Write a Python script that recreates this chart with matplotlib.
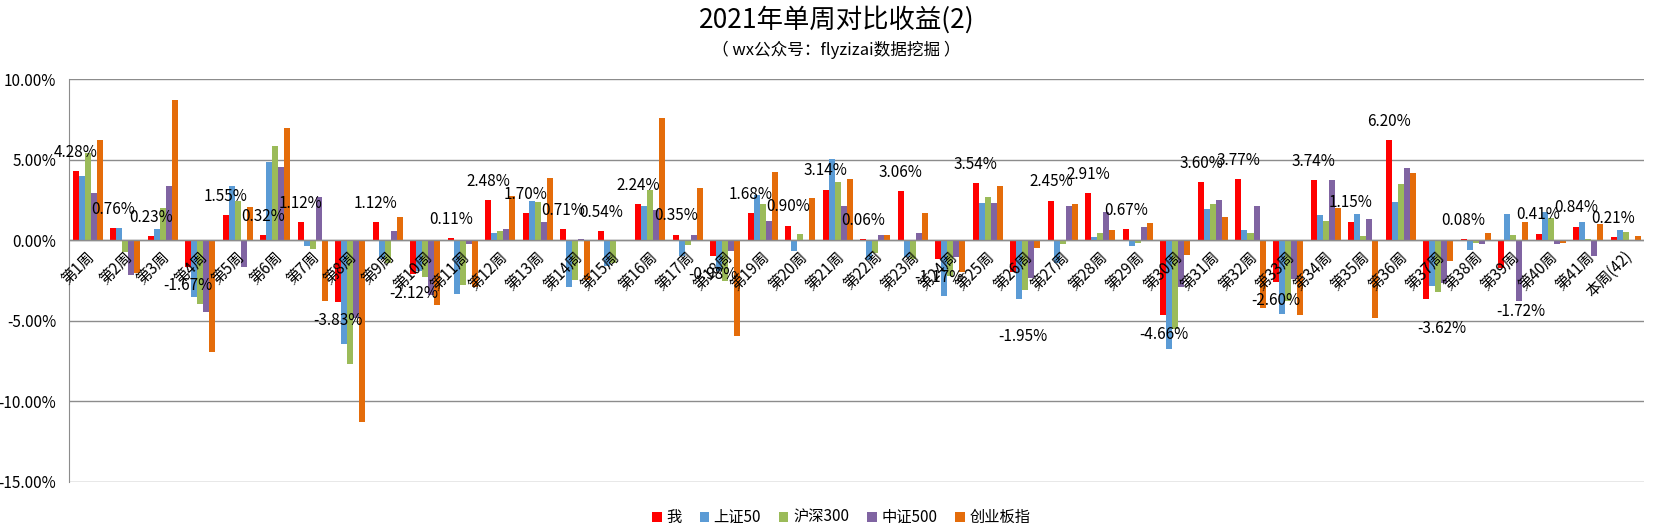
import numpy as np
import matplotlib
matplotlib.use('Agg')
import matplotlib.pyplot as plt
from matplotlib.ticker import FuncFormatter

plt.rcParams['font.family'] = ['Noto Sans CJK SC', 'DejaVu Sans']
plt.rcParams['axes.unicode_minus'] = False

weeks = [f'第{i}周' for i in range(1, 42)] + ['本周(42)']

# weekly returns in %
me = [4.28, 0.76, 0.23, -1.67, 1.55, 0.32, 1.12, -3.83, 1.12, -2.12, 0.11, 2.48, 1.70, 0.71,
      0.54, 2.24, 0.35, -0.98, 1.68, 0.90, 3.14, 0.06, 3.06, -1.17, 3.54, -1.95, 2.45, 2.91,
      0.67, -4.66, 3.60, 3.77, -2.60, 3.74, 1.15, 6.20, -3.62, 0.08, -1.72, 0.41, 0.84, 0.21]
sz50 = [4.00, 0.78, 0.71, -3.51, 3.38, 4.88, -0.39, -6.43, -1.16, -1.90, -3.34, 0.46, 2.45, -2.88,
        -1.60, 2.14, -0.98, -1.90, 2.82, -0.66, 5.06, -1.22, -1.06, -3.44, 2.32, -3.64, -1.40, 0.19,
        -0.39, -6.74, 1.95, 0.64, -4.59, 1.58, 1.64, 2.39, -2.82, -0.60, 1.64, 1.75, 1.12, 0.62]
hs300 = [5.41, -0.71, 2.01, -3.96, 2.41, 5.87, -0.52, -7.68, -1.40, -2.28, -2.78, 0.58, 2.39, -2.47,
         -1.39, 3.13, -0.27, -2.51, 2.26, 0.39, 3.63, -0.77, -1.14, -2.25, 2.66, -3.08, -0.25, 0.46,
         -0.15, -5.48, 2.26, 0.46, -3.76, 1.20, 0.27, 3.51, -3.20, -0.15, 0.33, 1.35, 0.06, 0.50]
zz500 = [2.95, -2.16, 3.38, -4.44, -1.68, 4.56, 2.70, -4.80, 0.57, -3.40, -0.25, 0.71, 1.14, 0.08,
         0.03, 1.89, 0.33, -0.64, 1.20, 0.02, 2.14, 0.33, 0.46, -1.03, 2.32, -2.32, 2.14, 1.76,
         0.83, -2.90, 2.51, 2.14, -2.39, 3.76, 1.33, 4.50, -2.68, -0.21, -3.76, -0.25, -0.99, 0.03]
cyb = [6.24, -2.01, 8.67, -6.93, 2.07, 6.93, -3.80, -11.25, 1.45, -4.05, -2.90, 2.76, 3.88, -2.47,
       -0.02, 7.61, 3.26, -5.95, 4.25, 2.63, 3.82, 0.33, 1.70, -2.00, 3.38, -0.47, 2.26, 0.64,
       1.08, -0.89, 1.45, -4.22, -4.66, 2.01, -4.83, 4.19, -1.29, 0.46, 1.14, -0.17, 0.99, 0.25]

series = [('我', me, '#FF0000'), ('上证50', sz50, '#5B9BD5'), ('沪深300', hs300, '#9BBB59'),
          ('中证500', zz500, '#8064A2'), ('创业板指', cyb, '#E46C0A')]

# a few labels were dragged by hand in the original (week index -> (dx, dy) in points)
label_nudge = {25: (6.5, -33), 36: (11.5, -8), 38: (14.5, -18)}

fig = plt.figure(figsize=(16.66, 5.32), dpi=100)
ax = fig.add_axes([0.0414, 0.094, 0.9456, 0.7575])

x = np.arange(len(weeks))
w = 0.16
for k, (name, vals, col) in enumerate(series):
    ax.bar(x + (k - 2) * w, vals, w, color=col, label=name, zorder=3)

# data labels for my returns, ~19px beyond bar end
for i, (xi, v) in enumerate(zip(x, me)):
    off = 13.5 if v >= 0 else -13.5
    dx, dy = label_nudge.get(i, (0, 0))
    ax.annotate(f'{v:.2f}%', (xi - 2 * w, v), xytext=(dx, off + dy), textcoords='offset points',
                ha='center', va='center', fontsize=11, zorder=6)

ax.set_xlim(-0.5, len(weeks) - 0.5)
ax.set_ylim(-15, 10)
ax.set_yticks([10, 5, 0, -5, -10, -15])
ax.yaxis.set_major_formatter(FuncFormatter(lambda v, p: f'{v:.2f}%'))
ax.tick_params(axis='y', length=0, pad=9, labelsize=11)
ax.set_xticks([])
ax.grid(axis='y', color='#8C8C8C', linewidth=1, zorder=0)
ax.axhline(0, color='#8C8C8C', linewidth=1, zorder=4)
for s in ['top', 'right', 'bottom']:
    ax.spines[s].set_visible(False)
ax.spines['left'].set_color('#8C8C8C')

# category labels sit on the zero line, rotated
for xi, lab in zip(x, weeks):
    ax.annotate(lab, (xi, 0), xytext=(3, -10), textcoords='offset points', rotation=45,
                rotation_mode='anchor', ha='right', va='center', fontsize=11, zorder=5)

fig.text(0.502, 0.962, '2021年单周对比收益(2)', ha='center', va='center', fontsize=19)
fig.text(0.502, 0.907, '（ wx公众号：flyzizai数据挖掘 ）', ha='center', va='center', fontsize=12)

fig.legend(loc='center', bbox_to_anchor=(0.505, 0.027), ncol=5, frameon=False, fontsize=11,
           handlelength=0.6, handleheight=0.6, handletextpad=0.3, columnspacing=1.2)

plt.savefig('out.png', dpi=100)
plt.close()
